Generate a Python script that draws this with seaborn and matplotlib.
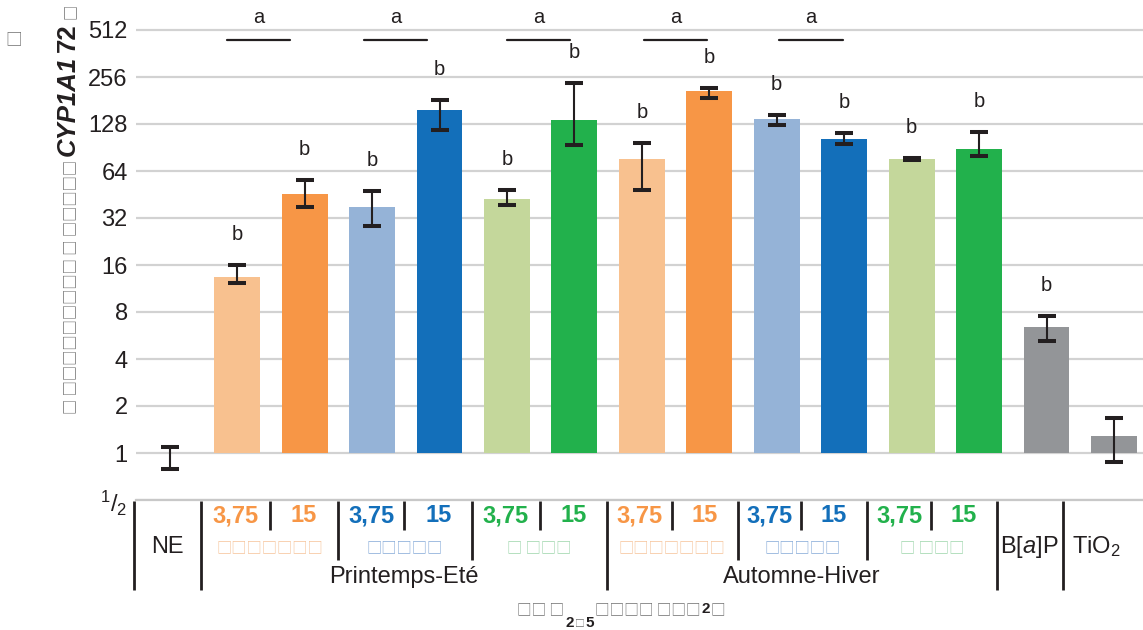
import numpy as np
import pandas as pd
import matplotlib
matplotlib.use("Agg")
import matplotlib.pyplot as plt
from matplotlib.ticker import NullLocator
import seaborn as sns

# ---------------- data ----------------
categories = ["NE",
              "PE 3,75 hydro", "PE 15 hydro", "PE 3,75 org", "PE 15 org", "PE 3,75 tot", "PE 15 tot",
              "AH 3,75 hydro", "AH 15 hydro", "AH 3,75 org", "AH 15 org", "AH 3,75 tot", "AH 15 tot",
              "B[a]P", "TiO2"]
values   = [1.00, 13.4, 45.6, 37.6, 157, 42.3, 136, 76.5, 208, 138, 102.6, 76.5, 88.6, 6.4, 1.29]
err_low  = [0.79, 12.2, 37.6, 28.4, 117, 38.8, 94, 48.5, 189, 126, 96, 75, 80, 5.24, 0.87]
err_high = [1.10, 16.0, 56.0, 47.6, 182, 48.4, 234, 97, 218, 147, 112, 78, 114, 7.57, 1.68]
letters  = ["", "b", "b", "b", "b", "b", "b", "b", "b", "b", "b", "b", "b", "b", ""]
sig_pairs_label = "a"
sig_line_level = 442
sig_centers = [1.32, 3.35, 5.47, 7.50, 9.51]
dose_labels = ["3,75", "15"] * 6
seasons = ["Printemps-Eté", "Automne-Hiver"]
ytick_values = [0.5, 1, 2, 4, 8, 16, 32, 64, 128, 256, 512]
ytick_labels = [r"$^{1}/_{2}$", "1", "2", "4", "8", "16", "32", "64", "128", "256", "512"]

# ---------------- style ----------------
LO, O, LB, B, LG, G, GR = "#F8C18F", "#F79646", "#95B3D7", "#136FBA", "#C4D79B", "#22B14C", "#939598"
bar_colors = [GR, LO, O, LB, B, LG, G, LO, O, LB, B, LG, G, GR, GR]
dose_colors = [O, O, B, B, G, G] * 2
tofu_colors = ["#F6C49A", "#86ABD8", "#9ED6AC"]
INK = "#231F20"
TOFU_GRAY = "#707070"

sns.set_theme(style="white")
plt.rcParams['font.family'] = ['Liberation Sans', 'DejaVu Sans']
plt.rcParams['mathtext.fontset'] = 'custom'
plt.rcParams['mathtext.rm'] = 'Liberation Sans'
plt.rcParams['mathtext.it'] = 'Liberation Sans:italic'
plt.rcParams['mathtext.bf'] = 'Liberation Sans:bold'
CJK = ['Noto Sans CJK SC', 'DejaVu Sans']

W, H = 1143, 630
fig = plt.figure(figsize=(W / 100, H / 100), dpi=100)
AX_L, AX_B, AX_H = 136, 130, 498.2
ax = fig.add_axes([AX_L / W, AX_B / H, 1 - AX_L / W, AX_H / H])

df = pd.DataFrame({"cat": categories, "val": values})
sns.barplot(data=df, x="cat", y="val", hue="cat", palette=bar_colors, order=categories,
            hue_order=categories, legend=False, width=0.68, saturation=1, dodge=False, ax=ax)
# bars start from 1 (log2 baseline)
for p, v in zip(ax.patches, values):
    p.set_y(1)
    p.set_height(v - 1)
    p.set_edgecolor("none")

n = len(categories)
xs = np.arange(n)
vals = np.array(values)
ax.errorbar(xs, vals, yerr=[vals - np.array(err_low), np.array(err_high) - vals], fmt="none",
            ecolor=INK, elinewidth=1.5, capsize=6.8, capthick=2.9, zorder=4)

ax.set_yscale("log", base=2)
ax.set_ylim(0.5, 2 ** 9.6)
ax.set_xlim(-0.5, 14.43)
ax.set_yticks(ytick_values, ytick_labels)
ax.yaxis.set_minor_locator(NullLocator())
ax.set_xticks([])
ax.set_xlabel("")
ax.set_ylabel("")
ax.yaxis.grid(True, color="#D2D2D2", lw=1.6)
ax.set_axisbelow(True)
for s in ["left", "top", "right"]:
    ax.spines[s].set_visible(False)
ax.spines["bottom"].set_color("#C8C8C8")
ax.spines["bottom"].set_linewidth(1.6)
ax.tick_params(axis="y", length=4, width=1, color="#BBBBBB", labelsize=17, labelcolor=INK, pad=2)

# letters above bars
for i, l in enumerate(letters):
    if l:
        ax.annotate(l, (i, err_high[i]), xytext=(0, 25), textcoords="offset pixels",
                    ha="center", va="baseline", fontsize=14.5, color=INK)
# significance lines "a"
for c in sig_centers:
    ax.plot([c - 0.47, c + 0.47], [sig_line_level] * 2, color=INK, lw=1.6, clip_on=False)
    ax.annotate(sig_pairs_label, (c, sig_line_level), xytext=(0, 17), textcoords="offset pixels",
                ha="center", va="baseline", fontsize=14.5, color=INK)

# ---------------- table under the axis ----------------
tr = ax.get_xaxis_transform()
def yo(px):
    return -px / AX_H

edges = [-0.53, 0.47, 1.48, 2.49, 3.48, 4.48, 5.49, 6.48, 7.44, 8.42, 9.36, 10.34, 11.29, 12.26, 13.24]
depth = [90, 90, 30, 60, 30, 60, 30, 90, 30, 60, 30, 60, 30, 90, 90]
for e, d in zip(edges, depth):
    ax.plot([e, e], [yo(1), yo(d)], transform=tr, color=INK, lw=2.0, clip_on=False,
            solid_capstyle="butt")

# dose labels
for k, (lab, col) in enumerate(zip(dose_labels, dose_colors)):
    xc = (edges[k + 1] + edges[k + 2]) / 2
    ax.text(xc, yo(16), lab, transform=tr, ha="center", va="center", fontsize=17,
            fontweight="bold", color=col)
# tofu fraction rows
tofu_strings = ["□□□□□□□", "□□□□□", "□ □□□"]
for g in range(6):
    xc = (edges[1 + 2 * g] + edges[3 + 2 * g]) / 2
    ax.text(xc, yo(48), tofu_strings[g % 3], transform=tr, ha="center", va="center",
            fontsize=11, family=CJK, color=tofu_colors[g % 3])
# seasons
for s, (a, b) in zip(seasons, [(1, 7), (7, 13)]):
    ax.text((edges[a] + edges[b]) / 2, yo(77), s, transform=tr, ha="center", va="center",
            fontsize=17, color=INK)
# controls
ax.text((edges[0] + edges[1]) / 2, yo(47), categories[0], transform=tr, ha="center",
        va="center", fontsize=17, color=INK)
ax.text((edges[13] + edges[14]) / 2, yo(47), r"B[$\mathit{a}$]P", transform=tr, ha="center",
        va="center", fontsize=17, color=INK)
ax.text(13.74, yo(47), r"TiO$_2$", transform=tr, ha="center", va="center", fontsize=17, color=INK)

# ---------------- axis titles made of pieces ----------------
renderer = fig.canvas.get_renderer()

def chain_h(x0, base_py, pieces, gap=1):
    x = x0
    for txt, kw, dy in pieces:
        t = fig.text(x / W, (H - base_py + dy) / H, txt, ha="left", va="baseline", **kw)
        bb = t.get_window_extent(renderer)
        x = bb.x1 + gap

def chain_v(x_base, start_py, pieces, gap=4):
    y = H - start_py
    for txt, kw in pieces:
        t = fig.text(x_base / W, y / H, txt, rotation=90, rotation_mode="anchor",
                     ha="left", va="baseline", **kw)
        bb = t.get_window_extent(renderer)
        y = bb.y1 + gap

box_kw = dict(family=CJK, fontsize=11, color=TOFU_GRAY)
bold_kw = dict(fontsize=18.5, fontweight="bold", color=INK)
chain_v(75, 414, [("□ □□□□□□□□□ □ □□□□□", box_kw),
                  ("CYP1A1", dict(bold_kw, style="italic")),
                  ("72", bold_kw),
                  ("□", box_kw)])

xbox = dict(family=CJK, fontsize=10.5, color=TOFU_GRAY)
sub = dict(fontsize=11, fontweight="bold", color=INK)
chain_h(517, 614, [("□□ □", xbox, 0),
                   ("2", sub, -13),
                   ("□", dict(family=CJK, fontsize=7, color=TOFU_GRAY), -13),
                   ("5", sub, -13),
                   ("□□□□ □□□", xbox, 0),
                   ("2", sub, 1),
                   ("□", xbox, 0)])

# panel marker
fig.text(14 / W, (H - 40) / H, "□", ha="center", va="center", family=CJK, fontsize=12,
         color=TOFU_GRAY)

fig.savefig("out.png", dpi=100)
